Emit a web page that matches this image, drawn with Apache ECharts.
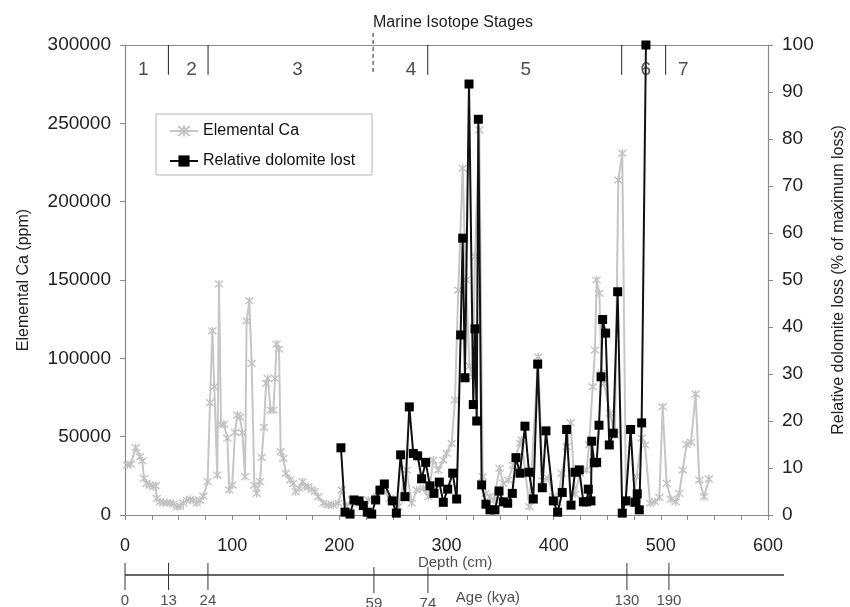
<!DOCTYPE html>
<html><head><meta charset="utf-8">
<script src="https://cdn.jsdelivr.net/npm/echarts@6/dist/echarts.min.js"></script>
<style>html,body{margin:0;padding:0;background:#fff}#c{width:850px;height:607px}</style>
</head><body><div id="c"></div>
<script>
// ---- data ----
const caDepth = [2.2,5.5,10,14,16.2,17.7,20.2,23.3,26.4,28.6,29.6,32.7,35.7,38.9,42,45.1,48.8,51.3,54.4,57.6,60.7,63.7,66.9,70,73.1,77.1,79.3,81.5,83.3,86.1,87.7,89.6,92.4,95.5,97.3,100.1,102.6,104.8,107.3,109.5,112,113.5,116,118.2,120.7,122.9,126,127.5,129.7,131.6,133.2,135.9,138.4,140,141.5,143.7,145.3,147.7,150.2,154,157,159.3,162.4,165.8,168,171,174.2,177.3,180.4,185,189.7,194.3,199,202.2,206.9,211.5,219.3,227,234.8,241,247.3,255,262.8,267.5,272.2,278.4,283,287.7,292.3,297,300.1,304.8,307.9,311,315.1,318,321.5,324.5,326.6,330.6,333.8,336.5,340.6,344.3,349.5,353,357.7,362.3,368.6,370.1,377.3,385.6,389.5,395,399.7,403.7,407.5,412.1,415.9,419.9,424.6,430.8,433,436.4,438.5,440.1,442.6,444.8,447,452.6,457.2,460.3,464,467.5,471,474.5,477.4,482,485.2,490,494.6,498.6,501.7,505.4,509.5,513.8,517.2,520.4,524.1,528.1,532.5,535.9,540.3,544.9];
const caValues = [31900,32500,43000,37200,34500,23400,20200,19100,18100,18700,10600,8500,7900,7700,7700,7000,5300,5700,7700,9400,10000,9400,7700,9400,12000,21300,71700,117600,81900,25500,147500,57900,57900,49000,16000,19100,52800,63800,62400,52500,24500,123800,136800,96800,19100,13800,21300,36800,56000,84000,87200,67000,67000,87200,109100,105800,40400,36200,26600,22300,20200,14900,17000,21300,18100,18100,16400,14900,11700,7500,6400,6400,7500,16000,5300,9600,7500,9600,11700,16000,10600,5300,28700,7500,16000,17000,11700,35100,28700,35100,39400,45800,73400,143600,221300,150000,95000,88000,164900,245700,24500,13800,11700,9600,29800,20200,22300,31900,45800,47900,5300,101000,22000,23400,11700,8000,26600,43600,58900,13400,26600,28700,44700,81900,105300,150000,141500,90400,84000,64900,51100,213800,230900,9600,8000,10000,24500,49000,44700,7500,8500,11300,69100,20200,10000,8500,13800,28700,45100,46400,77200,22300,11700,23000];

const dolDepth = [201.5,205.3,210,213.7,218.4,222.4,226.1,230.2,233.9,237.9,242,249.4,253.2,257.2,261.3,265.3,269,273.1,276.8,280.6,284.6,288.3,293.3,297,301.1,305.8,309.5,313.2,315.1,317.2,321,325,326.6,328.2,329.7,332.8,336.8,340.6,345.2,349,353,357.1,361.4,364.8,368.6,373.2,377,381,385.1,389.4,392.8,399.7,403.7,408,412.1,416.2,419.9,423.9,427.7,430.8,432.3,434.8,435.5,437.9,440.1,442.3,444.2,445.7,448.5,451.9,455.6,459.7,464,467.2,471.8,475.9,478,479.9,482.1,486.1];
const dolValues = [14.3,0.6,0.2,3.2,3.0,2.0,0.6,0.2,3.2,5.3,6.6,3.0,0.4,12.8,3.9,23.0,13.1,12.6,7.7,11.2,6.2,4.6,7.0,2.7,5.5,8.9,3.4,38.3,58.9,29.2,91.7,23.5,39.6,20.0,84.2,6.4,2.3,1.1,1.1,5.1,2.8,2.5,4.6,12.2,8.9,18.9,9.1,3.4,32.1,5.8,17.9,3.0,0.6,4.8,18.2,2.1,9.1,9.6,2.8,2.8,5.5,3.0,15.7,11.1,11.2,19.1,29.4,41.6,38.7,14.9,17.4,47.5,0.4,3.0,18.2,2.7,4.5,1.1,19.6,100];

const misBoundaries = [40.5, 77.5, 231.5, 282.5, 463.5, 504.5];
const misDashed = [false, false, true, false, false, false];
const misLabels = ['1','2','3','4','5','6','7'];
const misLabelDepth = [17, 62, 161, 267, 374, 486, 521];

const ageTickDepth = [0, 40.6, 77.4, 232.3, 282.7, 468.4, 507.6];
const ageTickLabels = ['0','13','24','59','74','130','190'];

const depthLabels = [0,100,200,300,400,500,600];

// ---- helpers ----
const TXT = '#222';
const AX = '#8a8a8a';
const FONT = 'Liberation Sans, Arial, sans-serif';
const caData = caDepth.map((d,i)=>[d, caValues[i]]);
const dolData = dolDepth.map((d,i)=>[d, dolValues[i]]);

const series = [];
series.push({
  name: 'Elemental Ca', type: 'line', xAxisIndex: 0, yAxisIndex: 0, data: caData,
  symbol: 'path://M0,0L10,10M10,0L0,10M5,-1L5,11', symbolSize: 8,
  itemStyle: {color: '#c2c2c2', borderColor: '#c2c2c2', borderWidth: 1.4},
  lineStyle: {color: '#c6c6c6', width: 2}, z: 3, silent: true
});
series.push({
  name: 'Relative dolomite lost', type: 'line', xAxisIndex: 0, yAxisIndex: 1, data: dolData,
  symbol: 'rect', symbolSize: 9,
  itemStyle: {color: '#000'}, lineStyle: {color: '#111', width: 2}, z: 5, silent: true
});
misBoundaries.forEach((b,i)=>{
  series.push({
    type: 'line', xAxisIndex: 0, yAxisIndex: 0, symbol: 'none', silent: true, clip: false,
    data: [[b, misDashed[i] ? 307700 : 300000], [b, 281000]],
    lineStyle: {color: '#222', width: 1, type: misDashed[i] ? [4,3] : 'solid'}, z: 6
  });
});
series.push({
  type: 'scatter', xAxisIndex: 0, yAxisIndex: 0, symbolSize: 0, silent: true,
  data: misLabels.map((t,i)=>({name: t, value: [misLabelDepth[i], 284000]})),
  label: {show: true, position: 'inside', formatter: p=>p.name, color: TXT, fontSize: 19, fontFamily: FONT}, z: 7
});
// age axis (grid 1)
series.push({
  type: 'line', xAxisIndex: 2, yAxisIndex: 2, symbol: 'none', silent: true, clip: false,
  data: [[0,0.5],[615,0.5]], lineStyle: {color: '#333', width: 1.5}
});
ageTickDepth.forEach((d,i)=>{
  series.push({
    type: 'line', xAxisIndex: 2, yAxisIndex: 2, symbol: 'none', silent: true, clip: false,
    data: [[d, i>=3 && i<=4 ? 0.7 : 0.8],[d, i>=3 && i<=4 ? 0.05 : 0.125]], lineStyle: {color: '#333', width: 1}
  });
});
series.push({
  type: 'scatter', xAxisIndex: 2, yAxisIndex: 2, symbolSize: 0, silent: true, clip: false,
  data: ageTickLabels.map((t,i)=>({name: t, value: [ageTickDepth[i], (i===3||i===4) ? -0.22 : -0.15]}))
    .concat([{name: 'Age (kya)', value: [338.7, -0.06]}, {name: 'Depth (cm)', value: [308, 0.8]}]),
  label: {show: true, position: 'inside', formatter: p=>p.name, color: TXT, fontSize: 15, fontFamily: FONT}
});

const option = {
  animation: false,
  backgroundColor: '#fff',
  title: {text: 'Marine Isotope Stages', left: 448, top: 10, textAlign: 'center',
    textStyle: {fontSize: 16, fontWeight: 'normal', color: TXT, fontFamily: FONT}},
  legend: {
    left: 156, top: 114, orient: 'vertical', data: ['Elemental Ca', 'Relative dolomite lost'],
    padding: [9,17,6,13], itemGap: 14, itemWidth: 28, itemHeight: 14,
    borderColor: '#b5b5b5', borderWidth: 1, backgroundColor: '#fff',
    textStyle: {fontSize: 16, color: '#111', fontFamily: FONT}, selectedMode: false
  },
  grid: [
    {left: 125, right: 82, top: 45, bottom: 92, outerBoundsMode: 'none', containLabel: false},
    {left: 125, right: 66, top: 555, height: 40, outerBoundsMode: 'none', containLabel: false}
  ],
  xAxis: [
    {type: 'value', gridIndex: 0, min: 0, max: 600, interval: 25, position: 'bottom',
      axisLine: {onZero: false, lineStyle: {color: AX, width: 1.2}}, axisTick: {length: 5, lineStyle: {color: AX}},
      splitLine: {show: false},
      axisLabel: {margin: 22, fontSize: 18, color: TXT, fontFamily: FONT,
        formatter: v => depthLabels.indexOf(v) >= 0 ? String(v) : ''}},
    {type: 'value', gridIndex: 0, min: 0, max: 600, position: 'top',
      axisLine: {show: true, onZero: false, lineStyle: {color: AX, width: 1.2}}, axisTick: {show: false},
      axisLabel: {show: false}, splitLine: {show: false}},
    {type: 'value', gridIndex: 1, min: 0, max: 615, show: false}
  ],
  yAxis: [
    {type: 'value', gridIndex: 0, min: 0, max: 300000, interval: 50000, position: 'left',
      name: 'Elemental Ca (ppm)', nameLocation: 'middle', nameGap: 93, nameRotate: 90,
      nameTextStyle: {fontSize: 16, color: TXT, fontFamily: FONT},
      axisLine: {show: true, onZero: false, lineStyle: {color: AX, width: 1.2}},
      axisTick: {show: true, length: 5, lineStyle: {color: AX}},
      splitLine: {show: false},
      axisLabel: {margin: 14, fontSize: 19, color: TXT, fontFamily: FONT, formatter: v => String(v)}},
    {type: 'value', gridIndex: 0, min: 0, max: 100, interval: 10, position: 'right',
      name: 'Relative dolomite loss (% of maximum loss)', nameLocation: 'middle', nameGap: 63, nameRotate: 90,
      nameTextStyle: {fontSize: 16, color: TXT, fontFamily: FONT},
      axisLine: {show: true, onZero: false, lineStyle: {color: AX, width: 1.2}},
      axisTick: {show: true, length: 5, lineStyle: {color: AX}},
      splitLine: {show: false},
      axisLabel: {margin: 14, fontSize: 19, color: TXT, fontFamily: FONT}},
    {type: 'value', gridIndex: 1, min: 0, max: 1, show: false}
  ],
  series: series
};
const chart = echarts.init(document.getElementById('c'), null, {renderer: 'canvas'});
chart.setOption(option);
</script>
</body></html>
